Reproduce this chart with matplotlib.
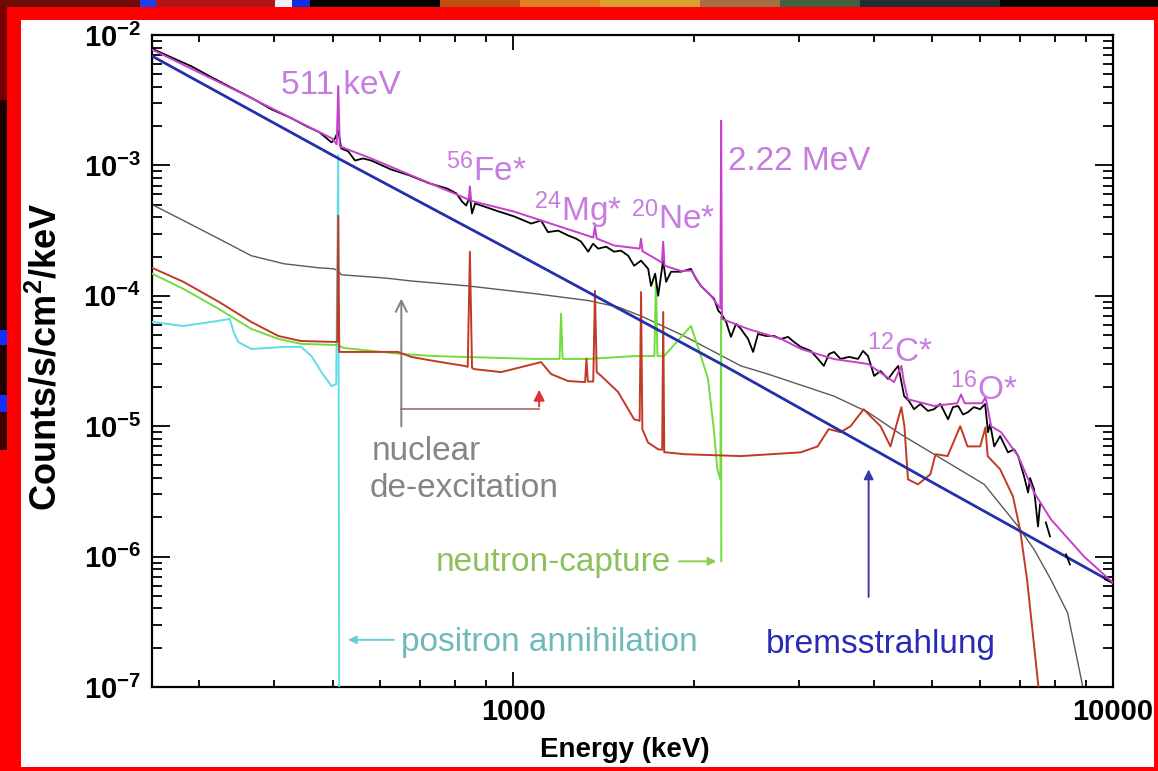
import numpy as np
import matplotlib
matplotlib.use("Agg")
import matplotlib.pyplot as plt
from matplotlib.patches import Rectangle
from matplotlib.ticker import FixedLocator, FixedFormatter, LogLocator, NullFormatter, FuncFormatter

plt.rcParams['font.family'] = ['Liberation Sans', 'DejaVu Sans']
plt.rcParams['mathtext.fontset'] = 'custom'
plt.rcParams['mathtext.rm'] = 'Liberation Sans'
plt.rcParams['mathtext.bf'] = 'Liberation Sans:bold'
plt.rcParams['mathtext.it'] = 'Liberation Sans:italic'

# ---------------- data (energy in keV, counts/s/cm2/keV) ----------------
brems_E = [250, 517, 1000, 2222, 5030, 10000]
brems_C = [6.9e-3, 1.1e-3, 2.18e-4, 3.0e-5, 3.65e-6, 6.3e-7]

total_E = [251, 347, 499, 508, 511, 514, 580, 835, 843, 847, 851, 1004, 1360, 1369, 1378,
           1474, 1625, 1634, 1643, 1770, 1779, 1788, 1905, 1982, 2056, 2137, 2197, 2215,
           2222, 2229, 2463, 2798, 3020, 3428, 3906, 4315, 4438, 4480, 4552, 5030, 5500,
           5580, 5660, 6050, 6130, 6264, 6506, 6948, 7387, 7880, 8950, 10000]
total_C = [7.67e-3, 3.71e-3, 1.61e-3, 1.45e-3, 4.06e-3, 1.40e-3, 1.13e-3, 5.57e-4, 5.45e-4,
           6.9e-4, 5.35e-4, 4.42e-4, 2.8e-4, 3.4e-4, 2.75e-4, 2.43e-4, 2.3e-4, 2.74e-4,
           2.2e-4, 1.8e-4, 2.6e-4, 1.7e-4, 1.55e-4, 1.56e-4, 1.19e-4, 1.0e-4, 8.4e-5, 8.0e-5,
           2.2e-3, 6.65e-5, 5.57e-5, 4.67e-5, 3.91e-5, 3.27e-5, 3.0e-5, 2.18e-5, 2.9e-5,
           2.2e-5, 1.61e-5, 1.43e-5, 1.5e-5, 1.75e-5, 1.5e-5, 1.5e-5, 1.67e-5, 1.0e-5,
           9.0e-6, 5.9e-6, 3.1e-6, 1.93e-6, 1.0e-6, 6.3e-7]

nan = float('nan')
data_E = [251, 269, 291, 314, 339, 366, 395, 427, 452, 475,
          488, 498, 505, 511, 517, 531, 545, 562, 580, 626,
          671, 724, 776, 804, 822, 835, 847, 854, 864, 885,
          937, 1004, 1072, 1113, 1143, 1189, 1235, 1274, 1298, 1334,
          1359, 1386, 1429, 1473, 1513, 1555, 1591, 1634, 1679, 1698,
          1725, 1745, 1778, 1799, 1833, 1905, 1979, 2018, 2056, 2097,
          2137, 2163, 2197, 2222, 2265, 2307, 2353, 2397, 2464, 2512,
          2560, 2640, 2723, 2794, 2873, 2938, 3016, 3134, 3222, 3296,
          3362, 3427, 3515, 3631, 3758, 3831, 3905, 3998, 4097, 4217,
          4315, 4385, 4486, 4570, 4659, 4774, 4915, 5030, 5154, 5309,
          5410, 5518, 5623, 5730, 5861, 6006, 6120, 6190, 6240, 6339,
          6484, 6683, 6839, 6950, 7109, 7219, 7273, 7386, 7499, 7557,
          nan, 7727, 7852, nan, 8351, 8476, nan, 9700, 10000]
data_C = [7.8e-3, 6.75e-3, 5.75e-3, 4.75e-3, 3.95e-3, 3.3e-3, 2.7e-3, 2.3e-3, 2.0e-3, 1.8e-3,
          1.62e-3, 1.5e-3, 1.62e-3, 1.85e-3, 1.35e-3, 1.28e-3, 1.09e-3, 1.13e-3, 1.09e-3, 9.3e-4,
          8.4e-4, 7.3e-4, 6.65e-4, 6.1e-4, 5.28e-4, 4.92e-4, 5.78e-4, 4.28e-4, 5.1e-4, 4.92e-4,
          4.5e-4, 4.06e-4, 3.58e-4, 3.78e-4, 3.08e-4, 3.16e-4, 2.9e-4, 2.74e-4, 2.6e-4, 2.18e-4,
          2.51e-4, 2.3e-4, 2.38e-4, 2.18e-4, 2.22e-4, 2.03e-4, 1.70e-4, 1.86e-4, 1.61e-4, 1.19e-4,
          1.48e-4, 1.0e-4, 1.86e-4, 1.28e-4, 1.53e-4, 1.53e-4, 1.61e-4, 1.35e-4, 1.19e-4, 1.09e-4,
          1.0e-4, 9.5e-5, 7.7e-5, 7.3e-5, 6.3e-5, 4.84e-5, 6.1e-5, 5.57e-5, 4.67e-5, 3.71e-5,
          5.1e-5, 4.92e-5, 4.92e-5, 4.67e-5, 4.84e-5, 4.43e-5, 4.06e-5, 3.78e-5, 3.28e-5, 2.9e-5,
          3.58e-5, 3.71e-5, 3.28e-5, 3.4e-5, 3.28e-5, 3.78e-5, 3.45e-5, 2.43e-5, 2.65e-5, 2.3e-5,
          2.65e-5, 2.9e-5, 1.70e-5, 1.56e-5, 1.35e-5, 1.48e-5, 1.31e-5, 1.35e-5, 1.48e-5, 1.13e-5,
          1.40e-5, 1.43e-5, 1.23e-5, 1.28e-5, 1.40e-5, 1.35e-5, 1.48e-5, 9.0e-6, 1.04e-5, 7.0e-6,
          8.4e-6, 6.3e-6, 6.65e-6, 5.9e-6, 4.12e-6, 3.1e-6, 4.0e-6, 3.28e-6, 1.70e-6, 2.51e-6,
          nan, 1.83e-6, 1.43e-6, nan, 1.04e-6, 8.7e-7, nan, 6.7e-7, 6.3e-7]

nuclear_E = [252, 282, 323, 366, 415, 474, 503, 511, 517, 610, 676, 841, 1084, 1333, 1496,
             1634, 1927, 2397, 2659, 3427, 3905, 4422, 5030, 6100, 6950, 7390, 7880, 8400, 8950]
nuclear_C = [4.92e-4, 3.78e-4, 2.74e-4, 2.03e-4, 1.76e-4, 1.64e-4, 1.61e-4, 1.55e-4, 1.45e-4,
             1.37e-4, 1.30e-4, 1.19e-4, 1.04e-4, 9.2e-5, 8.2e-5, 7.0e-5, 4.92e-5, 2.9e-5,
             2.51e-5, 1.70e-5, 1.28e-5, 8.7e-6, 6.1e-6, 3.58e-6, 1.70e-6, 1.13e-6, 6.65e-7,
             3.71e-7, 9.0e-8]

lines_E = [250, 282, 323, 366, 406, 443, 503, 509, 511, 513, 517, 643, 676, 739, 829, 840, 847,
           854, 861, 955, 1113, 1157, 1235, 1313, 1318, 1325, 1332, 1360, 1369, 1378, 1402,
           1496, 1591, 1625, 1634, 1642, 1678, 1745, 1772, 1779, 1786, 1801, 1927, 2397, 3016,
           3218, 3358, 3515, 3652, 3840, 3943, 4097, 4256, 4438, 4490, 4552, 4730, 4960, 5060,
           5300, 5563, 5720, 6006, 6129, 6180, 6484, 6810, 7000, 7190, 7390, 7550]
lines_C = [1.64e-4, 1.28e-4, 9.0e-5, 6.3e-5, 4.92e-5, 4.5e-5, 4.43e-5, 4.43e-5, 4.12e-4, 3.71e-5,
           3.71e-5, 3.71e-5, 3.4e-5, 3.16e-5, 2.9e-5, 2.85e-5, 2.18e-4, 2.8e-5, 2.74e-5, 2.6e-5,
           3.1e-5, 2.51e-5, 2.22e-5, 2.18e-5, 2.18e-5, 3.3e-5, 2.2e-5, 2.2e-5, 1.09e-4, 2.6e-5,
           2.43e-5, 1.83e-5, 1.13e-5, 1.1e-5, 1.07e-4, 9.5e-6, 7.5e-6, 6.65e-6, 6.6e-6, 7.5e-5,
           6.3e-6, 6.3e-6, 6.1e-6, 5.9e-6, 6.3e-6, 7.0e-6, 9.5e-6, 9.0e-6, 1.0e-5, 1.35e-5,
           1.19e-5, 1.0e-5, 7.0e-6, 1.4e-5, 1.0e-5, 3.91e-6, 3.58e-6, 4.27e-6, 6.1e-6, 5.9e-6,
           1.0e-5, 7.0e-6, 7.0e-6, 9.8e-6, 5.9e-6, 4.67e-6, 2.9e-6, 1.61e-6, 6.65e-7, 2.03e-7,
           8.0e-8]

ncap_E = [250, 282, 323, 366, 406, 443, 503, 509, 522, 651, 739, 1084, 1195, 1202, 1209, 1333,
          1591, 1720, 1730, 1740, 1785, 1979, 2056, 2113, 2160, 2190, 2215, 2222, 2223]
ncap_C = [1.48e-4, 1.13e-4, 7.94e-5, 5.57e-5, 4.67e-5, 4.28e-5, 4.2e-5, 4.2e-5, 3.98e-5, 3.58e-5,
          3.45e-5, 3.28e-5, 3.28e-5, 7.3e-5, 3.28e-5, 3.28e-5, 3.45e-5, 3.45e-5, 1.35e-4, 3.45e-5,
          3.45e-5, 5.87e-5, 3.45e-5, 2.3e-5, 9.5e-6, 4.67e-6, 3.9e-6, 6.9e-5, 9.2e-7]

pos_E = [250, 282, 323, 337, 342, 348, 366, 415, 443, 461, 479, 498, 507, 511, 513]
pos_C = [6.3e-5, 5.87e-5, 6.43e-5, 6.65e-5, 5.28e-5, 4.43e-5, 3.91e-5, 4.06e-5, 4.06e-5,
         3.45e-5, 2.6e-5, 2.03e-5, 2.1e-5, 1.2e-3, 5e-8]

line_labels = [r'$^{56}$Fe*', r'$^{24}$Mg*', r'$^{20}$Ne*', r'$^{12}$C*', r'$^{16}$O*']
line_label_E = [773, 1084, 1572, 3890, 5355]
line_label_C = [7.54e-4, 3.71e-4, 3.22e-4, 3.1e-5, 1.58e-5]

x_ticks = [1000, 10000]
x_tick_labels = ['1000', '10000']

# ---------------- colours ----------------
C_MAG = '#c640cc'
C_MAGTXT = '#c77ce0'
C_BLUE = '#2430a8'
C_GRAY = '#5a5a5a'
C_RED = '#c23a26'
C_GREEN = '#72dc3c'
C_CYAN = '#5fdde6'

W, H = 1158, 771
fig = plt.figure(figsize=(W / 100, H / 100), dpi=100, facecolor='#ff0000')


def px_rect(x0, x1, y0, y1, color, z=-5):
    """rectangle in figure pixels measured from the top-left corner"""
    fig.add_artist(Rectangle((x0 / W, 1 - y1 / H), (x1 - x0) / W, (y1 - y0) / H,
                             transform=fig.transFigure, facecolor=color,
                             edgecolor='none', zorder=z))


# background slide fragments showing around the red frame
for x0, x1, c in [(0, 140, '#6e0d05'), (140, 156, '#2040f0'), (156, 275, '#b01818'),
                  (275, 292, '#f0f0ff'), (292, 310, '#1030e0'), (310, 440, '#000000'),
                  (440, 520, '#c05010'), (520, 600, '#e08020'), (600, 700, '#d8a030'),
                  (700, 780, '#a07040'), (780, 860, '#406040'), (860, 1000, '#203030'),
                  (1000, 1158, '#000000')]:
    px_rect(x0, x1, 0, 7, c)
for y0, y1, c in [(7, 100, '#7a0000'), (100, 330, '#1a0000'), (330, 345, '#1030ff'),
                  (345, 395, '#200000'), (395, 412, '#1030ff'), (412, 450, '#400000')]:
    px_rect(0, 7, y0, y1, c)
px_rect(21, 1154, 20, 767, 'white', z=-4)

ax = fig.add_axes([152 / W, 84 / H, 961 / W, 652 / H])
ax.set_xscale('log')
ax.set_yscale('log')
ax.set_xlim(250, 10000)
ax.set_ylim(1e-7, 1e-2)

ax.plot(nuclear_E, nuclear_C, color=C_GRAY, lw=1.0, zorder=2)
ax.plot(pos_E, pos_C, color=C_CYAN, lw=1.4, zorder=3)
ax.plot(ncap_E, ncap_C, color=C_GREEN, lw=1.4, zorder=3)
ax.plot(lines_E, lines_C, color=C_RED, lw=1.4, zorder=4)
ax.plot(brems_E, brems_C, color=C_BLUE, lw=2.0, zorder=5)
ax.plot(data_E, data_C, color='black', lw=1.3, zorder=6)
ax.plot(total_E, total_C, color=C_MAG, lw=1.4, zorder=7)

# ---- text annotations ----
fs = 24
ax.text(410, 3.52e-3, '511 keV', color=C_MAGTXT, fontsize=fs, ha='left', va='baseline', zorder=8)
ax.text(2282, 9.3e-4, '2.22 MeV', color=C_MAGTXT, fontsize=fs, ha='left', va='baseline', zorder=8)
for lab, e, c in zip(line_labels, line_label_E, line_label_C):
    ax.text(e, c, lab, color=C_MAGTXT, fontsize=fs, ha='left', va='baseline', zorder=8)

ax.text(580, 5.47e-6, 'nuclear', color='#858585', fontsize=fs, ha='left', va='baseline')
ax.text(576, 2.84e-6, 'de-excitation', color='#858585', fontsize=fs, ha='left', va='baseline')
ax.text(744, 7.7e-7, 'neutron-capture', color='#8cc05a', fontsize=fs, ha='left', va='baseline')
ax.text(651, 1.89e-7, 'positron annihilation', color='#6fb9b9', fontsize=fs, ha='left', va='baseline')
ax.text(2641, 1.83e-7, 'bremsstrahlung', color='#2a2ab4', fontsize=fs, ha='left', va='baseline')

# ---- arrows ----
ax.annotate('', xy=(651, 1.0e-4), xytext=(651, 9.5e-6),
            arrowprops=dict(arrowstyle='->', color='#808080', lw=1.4, mutation_scale=20))
ax.plot([651, 1105], [1.35e-5, 1.35e-5], color='#b08080', lw=1.4)
ax.annotate('', xy=(1105, 2.0e-5), xytext=(1105, 1.35e-5),
            arrowprops=dict(arrowstyle='-|>', color='#e03030', lw=1.4, mutation_scale=16))
ax.annotate('', xy=(2205, 9.2e-7), xytext=(1870, 9.2e-7),
            arrowprops=dict(arrowstyle='-|>', color='#8cd050', lw=1.4, mutation_scale=12))
ax.annotate('', xy=(525, 2.3e-7), xytext=(640, 2.3e-7),
            arrowprops=dict(arrowstyle='-|>', color='#66d0d8', lw=1.4, mutation_scale=12))
ax.annotate('', xy=(3914, 4.9e-6), xytext=(3914, 4.67e-7),
            arrowprops=dict(arrowstyle='-|>', color='#3a3aaa', lw=1.4, mutation_scale=14))

# ---- axes styling ----
ax.xaxis.set_major_locator(FixedLocator(x_ticks))
ax.xaxis.set_major_formatter(FixedFormatter(x_tick_labels))
ax.xaxis.set_minor_locator(LogLocator(base=10, subs=np.arange(2, 10), numticks=20))
ax.xaxis.set_minor_formatter(NullFormatter())
ax.yaxis.set_major_locator(LogLocator(base=10, numticks=10))
ax.yaxis.set_major_formatter(FuncFormatter(lambda v, p: r'$\mathbf{10^{%d}}$' % int(round(np.log10(v)))))
ax.yaxis.set_minor_locator(LogLocator(base=10, subs=np.arange(2, 10), numticks=20))
ax.yaxis.set_minor_formatter(NullFormatter())

ax.tick_params(which='both', direction='in', top=True, right=True, width=1.3, colors='black')
ax.tick_params(axis='x', which='major', length=11, labelsize=21, pad=8)
ax.tick_params(axis='x', which='minor', length=5)
ax.tick_params(axis='y', which='major', length=13, labelsize=21, pad=8)
ax.tick_params(axis='y', which='minor', length=7)
for lbl in ax.get_xticklabels():
    lbl.set_fontweight('bold')
for s in ax.spines.values():
    s.set_linewidth(1.6)

fig.text(46 / W, 1 - 357 / H, r'Counts/s/cm$^{\mathbf{2}}$/keV', rotation=90, ha='center',
         va='center', fontsize=26, fontweight='bold')
fig.text(625 / W, 1 - 750 / H, 'Energy (keV)', ha='center', va='center', fontsize=20,
         fontweight='bold')

fig.savefig('out.png', dpi=100, facecolor=fig.get_facecolor())
